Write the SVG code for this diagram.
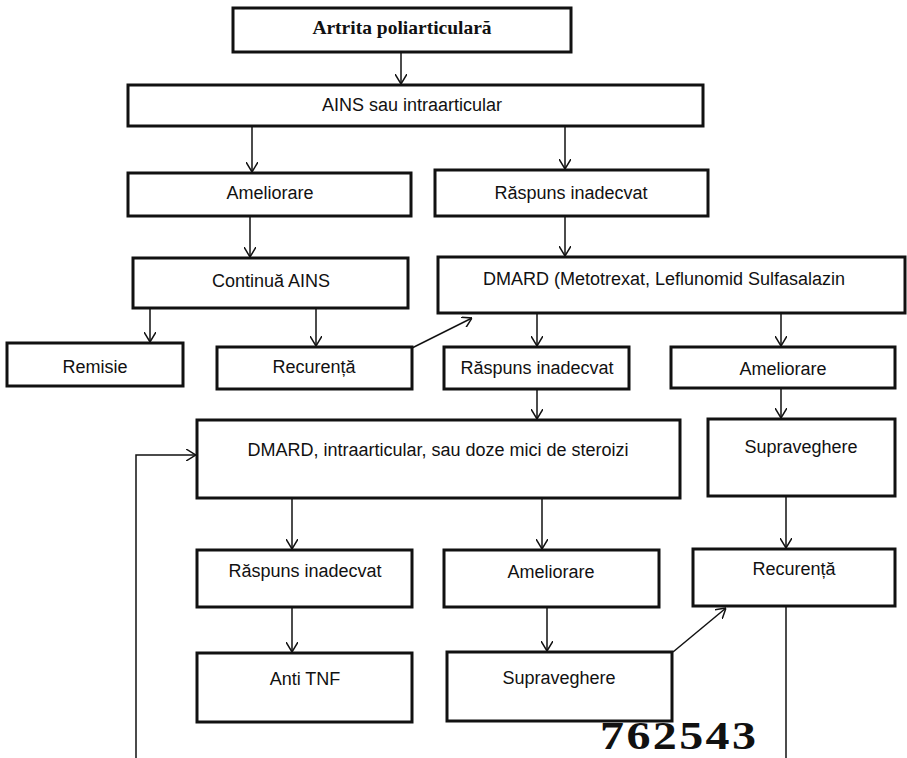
<svg xmlns="http://www.w3.org/2000/svg" width="907" height="758" viewBox="0 0 907 758">
<style>
.box{fill:#fff;stroke:#111;stroke-width:3}
.t{font-family:"Liberation Sans",Arial,sans-serif;font-size:18px;fill:#111;text-anchor:middle}
.title{font-family:"Liberation Serif","Times New Roman",serif;font-size:19.5px;font-weight:bold;fill:#111;text-anchor:middle}
.c{fill:none;stroke:#111;stroke-width:1.5}
.stamp{font-family:"Liberation Serif","Times New Roman",serif;font-size:40px;font-weight:bold;fill:#111;letter-spacing:2px}
</style>
<defs>
<marker id="ah" viewBox="0 0 10 12" markerWidth="10" markerHeight="12" refX="10" refY="6" orient="auto" markerUnits="userSpaceOnUse">
<path d="M0,0 L10,6 L0,12" fill="none" stroke="#111" stroke-width="1.5"/>
</marker>
</defs>
<rect width="907" height="758" fill="#fff"/>
<g id="connectors">
<line class="c" x1="401" y1="52" x2="401" y2="84" marker-end="url(#ah)"/>
<line class="c" x1="252" y1="126" x2="252" y2="172" marker-end="url(#ah)"/>
<line class="c" x1="565" y1="126" x2="565" y2="169" marker-end="url(#ah)"/>
<line class="c" x1="250" y1="216" x2="250" y2="257" marker-end="url(#ah)"/>
<line class="c" x1="565" y1="216" x2="565" y2="256" marker-end="url(#ah)"/>
<line class="c" x1="150" y1="308" x2="150" y2="342" marker-end="url(#ah)"/>
<line class="c" x1="316" y1="308" x2="316" y2="346" marker-end="url(#ah)"/>
<line class="c" x1="412" y1="348" x2="472" y2="318" marker-end="url(#ah)"/>
<line class="c" x1="537" y1="313" x2="537" y2="346" marker-end="url(#ah)"/>
<line class="c" x1="781" y1="313" x2="781" y2="346" marker-end="url(#ah)"/>
<line class="c" x1="537" y1="389" x2="537" y2="419" marker-end="url(#ah)"/>
<line class="c" x1="781" y1="388" x2="781" y2="418" marker-end="url(#ah)"/>
<line class="c" x1="292" y1="498" x2="292" y2="549" marker-end="url(#ah)"/>
<line class="c" x1="542" y1="498" x2="542" y2="549" marker-end="url(#ah)"/>
<line class="c" x1="786" y1="496" x2="786" y2="548" marker-end="url(#ah)"/>
<line class="c" x1="292" y1="607" x2="292" y2="652" marker-end="url(#ah)"/>
<line class="c" x1="547" y1="607" x2="547" y2="651" marker-end="url(#ah)"/>
<line class="c" x1="673" y1="652" x2="726" y2="608" marker-end="url(#ah)"/>
<polyline class="c" points="136,758 136,455 196,455" marker-end="url(#ah)"/>
<line class="c" x1="786" y1="607" x2="786" y2="758"/>
</g>
<g id="n1"><rect class="box" x="233" y="8" width="338" height="44"/><text class="title" x="402" y="34">Artrita poliarticulară</text></g>
<g id="n2"><rect class="box" x="128" y="85" width="575" height="41"/><text class="t" x="412" y="111">AINS sau intraarticular</text></g>
<g id="n3"><rect class="box" x="128" y="173" width="283" height="43"/><text class="t" x="270" y="199">Ameliorare</text></g>
<g id="n4"><rect class="box" x="435" y="170" width="273" height="46"/><text class="t" x="571" y="199">Răspuns inadecvat</text></g>
<g id="n5"><rect class="box" x="133" y="258" width="275" height="50"/><text class="t" x="271" y="287">Continuă AINS</text></g>
<g id="n6"><rect class="box" x="438" y="257" width="467" height="56"/><text class="t" x="664" y="285">DMARD (Metotrexat, Leflunomid Sulfasalazin</text></g>
<g id="n7"><rect class="box" x="7" y="343" width="176" height="43"/><text class="t" x="95" y="373">Remisie</text></g>
<g id="n8"><rect class="box" x="217" y="347" width="195" height="42"/><text class="t" x="314" y="373">Recurență</text></g>
<g id="n9"><rect class="box" x="444" y="347" width="185" height="42"/><text class="t" x="537" y="374">Răspuns inadecvat</text></g>
<g id="n10"><rect class="box" x="671" y="347" width="224" height="41"/><text class="t" x="783" y="375">Ameliorare</text></g>
<g id="n11"><rect class="box" x="197" y="420" width="483" height="78"/><text class="t" x="438" y="456">DMARD, intraarticular, sau doze mici de steroizi</text></g>
<g id="n12"><rect class="box" x="708" y="419" width="187" height="77"/><text class="t" x="801" y="453">Supraveghere</text></g>
<g id="n13"><rect class="box" x="197" y="550" width="215" height="57"/><text class="t" x="305" y="577">Răspuns inadecvat</text></g>
<g id="n14"><rect class="box" x="444" y="550" width="215" height="57"/><text class="t" x="551" y="578">Ameliorare</text></g>
<g id="n15"><rect class="box" x="693" y="549" width="202" height="57"/><text class="t" x="794" y="575">Recurență</text></g>
<g id="n16"><rect class="box" x="197" y="653" width="215" height="69"/><text class="t" x="305" y="685">Anti TNF</text></g>
<g id="n17"><rect class="box" x="447" y="652" width="225" height="69"/><text class="t" x="559" y="684">Supraveghere</text></g>
<text class="stamp" transform="translate(600,749) scale(1.2,1)">762543</text>
</svg>
